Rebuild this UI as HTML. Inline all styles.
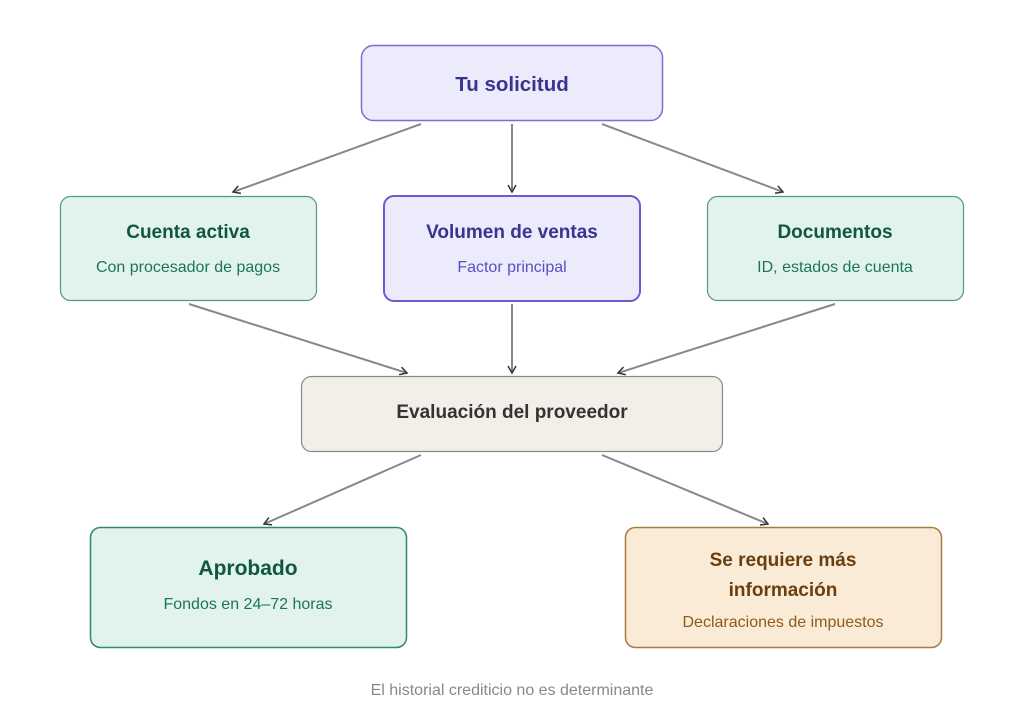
<!DOCTYPE html>
<html><head><meta charset="utf-8"><style>
html,body{margin:0;padding:0;background:#fff;width:1024px;height:723px;overflow:hidden}
svg{display:block;font-family:"Liberation Sans",sans-serif}
</style></head><body>
<svg width="1024" height="723" viewBox="0 0 1024 723" xmlns="http://www.w3.org/2000/svg">
<defs><marker id="a" markerWidth="12" markerHeight="12" refX="9" refY="6" orient="auto" markerUnits="userSpaceOnUse"><path d="M2,2 L9,6 L2,10" fill="none" stroke="#333" stroke-width="1.5"/></marker></defs>
<g stroke="#888" stroke-width="2" fill="none" marker-end="url(#a)">
<line x1="421" y1="124" x2="233" y2="192"/>
<line x1="512" y1="124" x2="512" y2="192"/>
<line x1="602" y1="124" x2="783" y2="192"/>
<line x1="189" y1="304" x2="407" y2="373"/>
<line x1="512" y1="304" x2="512" y2="373"/>
<line x1="835" y1="304" x2="618" y2="373"/>
<line x1="421" y1="455" x2="264" y2="524"/>
<line x1="602" y1="455" x2="768" y2="524"/>
</g>
<rect x="361.5" y="45.5" width="301" height="75" rx="12" fill="#ecebfc" stroke="#7b6fd1" stroke-width="1.5"/>
<text x="512" y="91" text-anchor="middle" font-size="20.5" font-weight="bold" fill="#3d3290">Tu solicitud</text>
<rect x="60.5" y="196.5" width="256" height="104" rx="10" fill="#e1f3ec" stroke="#4f9a7c" stroke-width="1.2"/>
<text x="188" y="238" text-anchor="middle" font-size="19" font-weight="bold" fill="#11573f">Cuenta activa</text>
<text x="188" y="272" text-anchor="middle" font-size="16" fill="#1c7656">Con procesador de pagos</text>
<rect x="384" y="196" width="256" height="105" rx="10" fill="#ecebfc" stroke="#6a5acd" stroke-width="2"/>
<text x="512" y="238" text-anchor="middle" font-size="19" font-weight="bold" fill="#3d3290">Volumen de ventas</text>
<text x="512" y="272" text-anchor="middle" font-size="16" fill="#5b4ec4">Factor principal</text>
<rect x="707.5" y="196.5" width="256" height="104" rx="10" fill="#e1f3ec" stroke="#4f9a7c" stroke-width="1.2"/>
<text x="835" y="238" text-anchor="middle" font-size="19" font-weight="bold" fill="#11573f">Documentos</text>
<text x="835" y="272" text-anchor="middle" font-size="16" fill="#1c7656">ID, estados de cuenta</text>
<rect x="301.5" y="376.5" width="421" height="75" rx="10" fill="#f1efe8" stroke="#8a8a85" stroke-width="1.2"/>
<text x="512" y="418" text-anchor="middle" font-size="19" font-weight="bold" fill="#333">Evaluación del proveedor</text>
<rect x="90.5" y="527.5" width="316" height="120" rx="10" fill="#e1f3ec" stroke="#2f8a66" stroke-width="1.5"/>
<text x="248" y="575" text-anchor="middle" font-size="21" font-weight="bold" fill="#11573f">Aprobado</text>
<text x="248" y="609" text-anchor="middle" font-size="16" fill="#1c7656">Fondos en 24–72 horas</text>
<rect x="625.5" y="527.5" width="316" height="120" rx="10" fill="#faebd7" stroke="#a87a45" stroke-width="1.5"/>
<text x="783" y="566" text-anchor="middle" font-size="19" font-weight="bold" fill="#6b3e0e">Se requiere más</text>
<text x="783" y="596" text-anchor="middle" font-size="19" font-weight="bold" fill="#6b3e0e">información</text>
<text x="783" y="627" text-anchor="middle" font-size="16" fill="#8f5a1d">Declaraciones de impuestos</text>
<text x="512" y="695" text-anchor="middle" font-size="16" fill="#888">El historial crediticio no es determinante</text>
</svg>
</body></html>
